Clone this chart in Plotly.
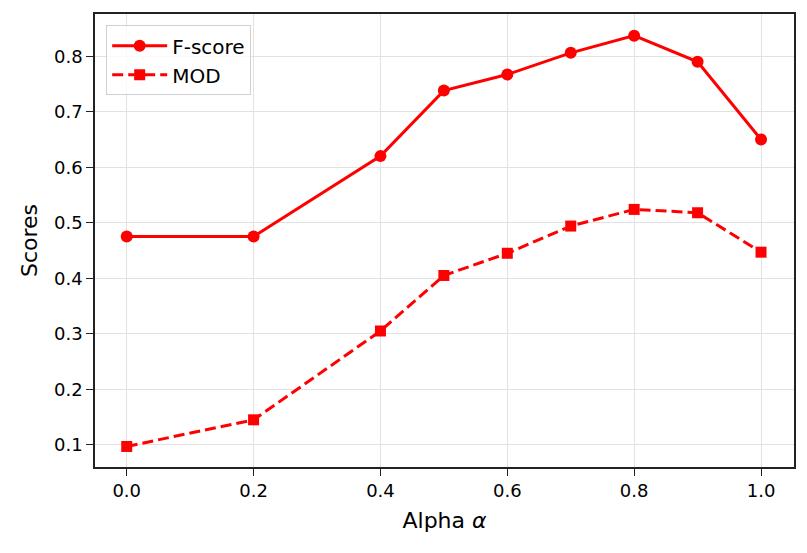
import plotly.graph_objects as go

alpha = [0.0, 0.2, 0.4, 0.5, 0.6, 0.7, 0.8, 0.9, 1.0]
f_score = [0.475, 0.475, 0.620, 0.738, 0.767, 0.806, 0.837, 0.790, 0.650]
mod = [0.097, 0.145, 0.305, 0.405, 0.445, 0.494, 0.524, 0.518, 0.447]

x_ticks = [0.0, 0.2, 0.4, 0.6, 0.8, 1.0]
y_ticks = [0.1, 0.2, 0.3, 0.4, 0.5, 0.6, 0.7, 0.8]

fig = go.Figure()
fig.add_trace(go.Scatter(
    x=alpha, y=f_score, mode="lines+markers", name="F-score",
    line=dict(color="red", width=3),
    marker=dict(symbol="circle", size=12, color="red"),
))
fig.add_trace(go.Scatter(
    x=alpha, y=mod, mode="lines+markers", name="MOD",
    line=dict(color="red", width=3, dash="11px,5px"),
    marker=dict(symbol="square", size=11, color="red"),
))

axis_common = dict(
    showline=True, linecolor="#222222", linewidth=1.5, mirror=True,
    ticks="outside", ticklen=7, tickwidth=1.2, tickcolor="#222222",
    showgrid=True, gridcolor="#e2e2e2", gridwidth=1,
    zeroline=False, tickfont=dict(size=18, color="black"),
    automargin=False,
)

fig.update_layout(
    width=807, height=553,
    margin=dict(l=95, r=13, t=14, b=86),
    paper_bgcolor="white", plot_bgcolor="white",
    font=dict(family="DejaVu Sans", color="black"),
    showlegend=True,
    legend=dict(
        x=0.016, y=0.975, xanchor="left", yanchor="top",
        bgcolor="rgba(255,255,255,0.8)", bordercolor="#d0d0d0", borderwidth=1,
        font=dict(size=20), itemwidth=55,
    ),
    xaxis=dict(
        range=[-0.05, 1.052], tickvals=x_ticks,
        ticktext=[f"{v:.1f}" for v in x_ticks],
        title=dict(text="Alpha <i>α</i>", font=dict(size=22), standoff=12),
        **axis_common,
    ),
    yaxis=dict(
        range=[0.060, 0.876], tickvals=y_ticks,
        ticktext=[f"{v:.1f}" for v in y_ticks],
        title=dict(text="Scores", font=dict(size=22), standoff=10),
        **axis_common,
    ),
)

fig.write_html("out.html", config={"displayModeBar": False},
               post_script="document.body.style.margin='0';")
